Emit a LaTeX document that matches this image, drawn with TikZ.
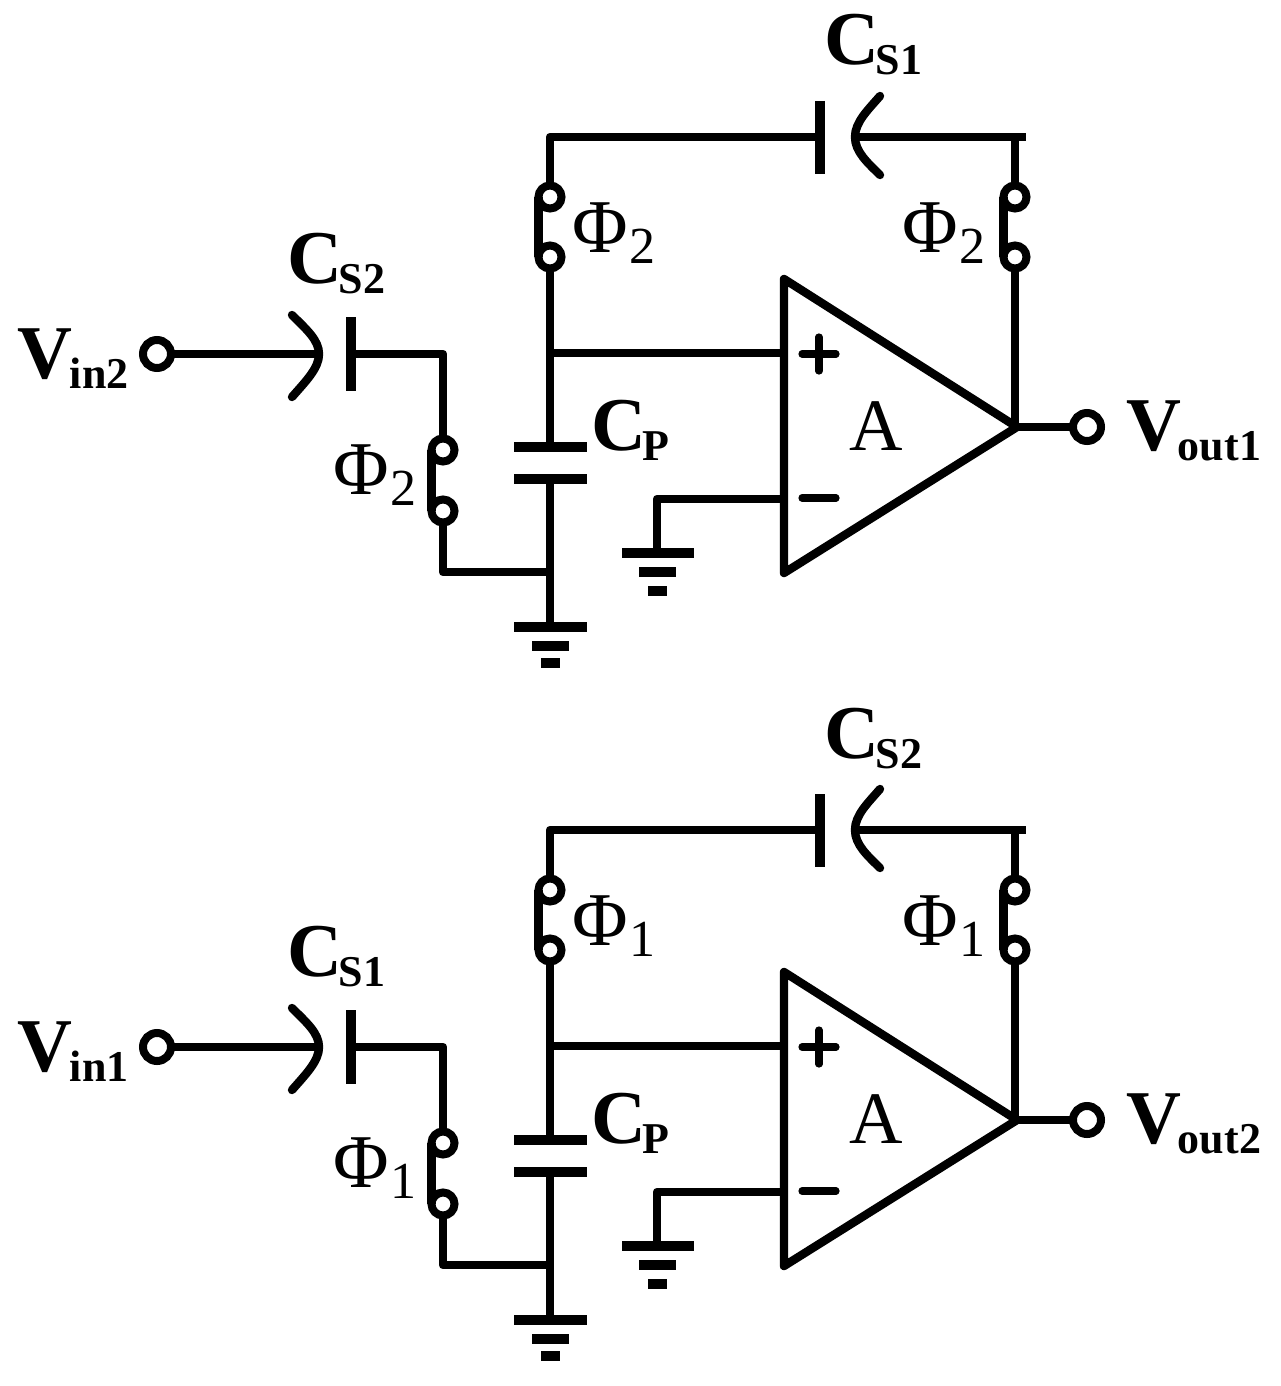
\documentclass[tikz,border=0pt]{standalone}
\usepackage{fontspec}
\setmainfont{Liberation Serif}
\tikzset{
  x=0.5pt,y=-0.5pt,
  wire/.style={line width=4.2pt,line cap=butt,line join=round},
  roundwire/.style={line width=4.2pt,line cap=round,line join=round},
  plate/.style={line width=4.6pt,line cap=butt},
  terminal/.style={circle,draw,line width=4pt,fill=white,inner sep=0pt,outer sep=0pt,minimum size=14pt},
  switchpin/.style={circle,draw,line width=4pt,fill=white,inner sep=0pt,outer sep=0pt,minimum size=11.5pt},
  lab/.style={anchor=base west,inner sep=0pt,outer sep=0pt},
}
\newcommand{\MainB}[1]{{\fontsize{38}{38}\selectfont\bfseries #1}}
\newcommand{\SubB}[1]{{\kern-1.5pt\raisebox{-5pt}{\fontsize{22}{22}\selectfont\bfseries #1}}}
\newcommand{\PhiLab}[1]{{\fontsize{38}{38}\selectfont Φ}{\kern1pt\raisebox{-5.5pt}{\fontsize{26}{26}\selectfont #1}}}
% #1 prefix, #2 y offset, #3 phase, #4 top cap, #5 left cap, #6 input index, #7 output index
\newcommand{\stage}[7]{%
\begin{scope}[shift={(0,#2)}]
  % feedback branch
  \coordinate (#1TL) at (550,137);
  \coordinate (#1TR) at (1026,137);
  \coordinate (#1RT) at (1015,137);
  \coordinate (#1CF) at (820,137);
  \coordinate (#1CFa) at (820,101);
  \coordinate (#1CFb) at (820,174);
  \coordinate (#1CM) at (855,137);
  \coordinate (#1CFc) at (880,96);
  \coordinate (#1CFd) at (880,175);
  \node[switchpin] (#1SA) at (550,197) {};
  \node[switchpin] (#1SB) at (550,257) {};
  \node[switchpin] (#1SC) at (1015,197) {};
  \node[switchpin] (#1SD) at (1015,257) {};
  \coordinate (#1J) at (550,353);
  \coordinate (#1OPa) at (784,279);
  \coordinate (#1OPb) at (784,573);
  \coordinate (#1OPt) at (1017,427);
  \coordinate (#1OPr) at (1015,427);
  \coordinate (#1OPp) at (784,353);
  \coordinate (#1OPn) at (784,499);
  \node[terminal] (#1VO) at (1087,427) {};
  \draw[wire] (#1SA.north) -- (#1TL) -- (#1CF);
  \draw[plate] (#1CFa) -- (#1CFb);
  \draw[roundwire] (#1CFc) .. controls (868,110) and (855,122) .. (#1CM) .. controls (855,152) and (868,163) .. (#1CFd);
  \draw[wire] (#1CM) -- (#1TR);
  \draw[wire] (#1RT) -- (#1SC.north);
  \draw[wire] (#1SA.west) -- (#1SB.west);
  \draw[wire] (#1SC.west) -- (#1SD.west);
  \draw[wire] (#1SB.south) -- (#1J) -- (#1OPp);
  \draw[wire] (#1SD.south) -- (#1OPr);
  % op amp
  \draw[roundwire] (#1OPa) -- (#1OPt) -- (#1OPb) -- cycle;
  \draw[wire] (#1OPt) -- (#1VO.west);
  \draw[line width=3.6pt,line cap=round] (802,354) -- (836,354) (819,337) -- (819,371);
  \draw[line width=3.6pt,line cap=round] (802,498) -- (836,498);
  \node[lab] (#1A) at (849,450) {\fontsize{37}{37}\selectfont A};
  % parasitic capacitor and ground
  \coordinate (#1PA) at (550,447);
  \coordinate (#1PB) at (550,479);
  \coordinate (#1G) at (550,627);
  \coordinate (#1GJ) at (550,572);
  \draw[wire] (#1J) -- (#1PA);
  \draw[wire] (#1PB) -- (#1G);
  \draw[plate] (514,447) -- (587,447);
  \draw[plate] (514,479) -- (587,479);
  \draw[plate] (514,627) -- (587,627);
  \draw[plate] (532,646) -- (569,646);
  \draw[plate] (541,663) -- (560,663);
  % input branch
  \node[terminal] (#1VI) at (157,354) {};
  \coordinate (#1IM) at (319,354);
  \coordinate (#1ICa) at (292,315);
  \coordinate (#1ICb) at (292,397);
  \coordinate (#1IP) at (351,354);
  \coordinate (#1IPa) at (351,317);
  \coordinate (#1IPb) at (351,391);
  \coordinate (#1IK) at (443,354);
  \node[switchpin] (#1SE) at (443,450) {};
  \node[switchpin] (#1SF) at (443,511) {};
  \coordinate (#1IL) at (443,572);
  \draw[wire] (#1VI.east) -- (#1IM);
  \draw[roundwire] (#1ICa) .. controls (306,329) and (319,340) .. (#1IM) .. controls (319,368) and (306,381) .. (#1ICb);
  \draw[plate] (#1IPa) -- (#1IPb);
  \draw[wire] (#1IP) -- (#1IK) -- (#1SE.north);
  \draw[wire] (#1SE.west) -- (#1SF.west);
  \draw[wire] (#1SF.south) -- (#1IL) -- (#1GJ);
  % op amp negative input ground
  \coordinate (#1NK) at (657,499);
  \coordinate (#1NG) at (657,553);
  \draw[wire] (#1OPn) -- (#1NK) -- (#1NG);
  \draw[plate] (622,553) -- (694,553);
  \draw[plate] (639,572) -- (676,572);
  \draw[plate] (648,591) -- (667,591);
  % labels
  \node[lab] (#1LCT) at (824,65) {\MainB{C}\SubB{S#4}};
  \node[lab] (#1LCL) at (287,283) {\MainB{C}\SubB{S#5}};
  \node[lab] (#1LCP) at (591,450) {\MainB{C}\SubB{P}};
  \node[lab] (#1LVI) at (18,378) {\MainB{V}\SubB{in#6}};
  \node[lab] (#1LVO) at (1126,450) {\MainB{V}\SubB{out#7}};
  \node[lab] (#1LPa) at (572,252) {\PhiLab{#3}};
  \node[lab] (#1LPb) at (902,252) {\PhiLab{#3}};
  \node[lab] (#1LPc) at (333,494) {\PhiLab{#3}};
\end{scope}}
\begin{document}
\begin{tikzpicture}
  \useasboundingbox (0,0) rectangle (1280,1386);
  \stage{u}{0}{2}{1}{2}{2}{1}
  \stage{v}{693}{1}{2}{1}{1}{2}
\end{tikzpicture}
\end{document}
